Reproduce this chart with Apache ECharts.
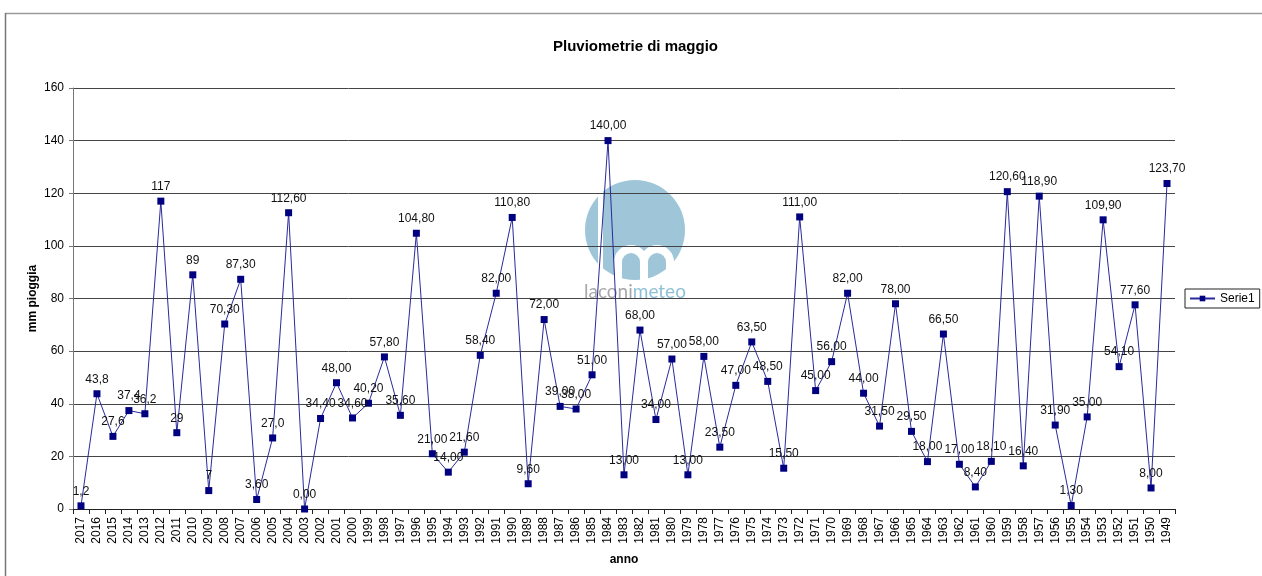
<!DOCTYPE html>
<html>
<head>
<meta charset="utf-8">
<script src="https://cdn.jsdelivr.net/npm/echarts@6/dist/echarts.min.js"></script>
<style>
html,body{margin:0;padding:0;background:#fff;}
#chart{width:1262px;height:576px;}
</style>
</head>
<body>
<div id="chart"></div>
<script>
var years = ['2017','2016','2015','2014','2013','2012','2011','2010','2009','2008','2007','2006','2005','2004','2003','2002','2001','2000','1999','1998','1997','1996','1995','1994','1993','1992','1991','1990','1989','1988','1987','1986','1985','1984','1983','1982','1981','1980','1979','1978','1977','1976','1975','1974','1973','1972','1971','1970','1969','1968','1967','1966','1965','1964','1963','1962','1961','1960','1959','1958','1957','1956','1955','1954','1953','1952','1951','1950','1949'];
var rain = [1.2,43.8,27.6,37.4,36.2,117,29,89,7,70.3,87.3,3.6,27.0,112.6,0.0,34.4,48.0,34.6,40.2,57.8,35.6,104.8,21.0,14.0,21.6,58.4,82.0,110.8,9.6,72.0,39.0,38.0,51.0,140.0,13.0,68.0,34.0,57.0,13.0,58.0,23.5,47.0,63.5,48.5,15.5,111.0,45.0,56.0,82.0,44.0,31.5,78.0,29.5,18.0,66.5,17.0,8.4,18.1,120.6,16.4,118.9,31.9,1.3,35.0,109.9,54.1,77.6,8.0,123.7];
var labelTexts = ['1,2','43,8','27,6','37,4','36,2','117','29','89','7','70,30','87,30','3,60','27,0','112,60','0,00','34,40','48,00','34,60','40,20','57,80','35,60','104,80','21,00','14,00','21,60','58,40','82,00','110,80','9,60','72,00','39,00','38,00','51,00','140,00','13,00','68,00','34,00','57,00','13,00','58,00','23,50','47,00','63,50','48,50','15,50','111,00','45,00','56,00','82,00','44,00','31,50','78,00','29,50','18,00','66,50','17,00','8,40','18,10','120,60','16,40','118,90','31,90','1,30','35,00','109,90','54,10','77,60','8,00','123,70'];
var yTicks = {min: 0, max: 160, interval: 20};

var FONT = '"Liberation Sans", Arial, sans-serif';
var chart = echarts.init(document.getElementById('chart'), null, {renderer: 'canvas'});
chart.setOption({
  animation: false,
  backgroundColor: '#ffffff',
  title: {
    text: 'Pluviometrie di maggio',
    left: 548, top: 34,
    textStyle: {fontFamily: FONT, fontSize: 15, fontWeight: 'bold', color: '#000'}
  },
  legend: {
    data: ['Serie1'],
    left: 1185, top: 289,
    orient: 'vertical',
    padding: [2, 5, 2, 4],
    borderColor: '#222', borderWidth: 1,
    itemWidth: 25, itemHeight: 7, itemGap: 0,
    textStyle: {fontFamily: FONT, fontSize: 12, color: '#000', lineHeight: 15}
  },
  grid: {left: 73, right: 87, top: 88, bottom: 67, containLabel: false},
  xAxis: {
    type: 'category',
    data: years,
    boundaryGap: true,
    name: 'anno',
    nameLocation: 'middle',
    nameGap: 45,
    nameMoveOverlap: false,
    nameTextStyle: {fontFamily: FONT, fontSize: 12, fontWeight: 'bold', color: '#000'},
    axisLine: {lineStyle: {color: '#222', width: 1}},
    axisTick: {show: true, length: 5, lineStyle: {color: '#222'}},
    axisLabel: {rotate: 90, interval: 0, margin: 8, fontFamily: FONT, fontSize: 12, color: '#000'},
    splitLine: {show: false}
  },
  yAxis: {
    type: 'value',
    min: yTicks.min, max: yTicks.max, interval: yTicks.interval,
    name: 'mm pioggia',
    nameLocation: 'middle',
    nameGap: 34,
    nameMoveOverlap: false,
    nameTextStyle: {fontFamily: FONT, fontSize: 12, fontWeight: 'bold', color: '#000'},
    axisLine: {show: true, lineStyle: {color: '#777', width: 1}},
    axisTick: {show: true, length: 4, lineStyle: {color: '#777'}},
    axisLabel: {margin: 9, fontFamily: FONT, fontSize: 12, color: '#000'},
    splitLine: {show: true, lineStyle: {color: '#444', width: 1}}
  },
  graphic: [
    {type: 'line', z: -5, shape: {x1: 5, y1: 13.5, x2: 1262, y2: 13.5}, style: {stroke: '#9a9a9a', lineWidth: 1.5}},
    {type: 'line', z: -5, shape: {x1: 5.5, y1: 13, x2: 5.5, y2: 576}, style: {stroke: '#777', lineWidth: 1.5}},
    {type: 'circle', z: -10, shape: {cx: 635, cy: 230, r: 50}, style: {fill: '#9ec6d8'}},
    {type: 'rect', z: -9, shape: {x: 598, y: 178, width: 5, height: 104}, style: {fill: '#ffffff'}},
    {type: 'line', z: -9, shape: {x1: 618, y1: 262, x2: 618, y2: 282}, style: {stroke: '#ffffff', lineWidth: 8}},
    {type: 'line', z: -9, shape: {x1: 644, y1: 262, x2: 644, y2: 282}, style: {stroke: '#ffffff', lineWidth: 8}},
    {type: 'line', z: -9, shape: {x1: 670, y1: 262, x2: 670, y2: 282}, style: {stroke: '#ffffff', lineWidth: 8}},
    {type: 'arc', z: -9, shape: {cx: 631, cy: 262, r: 13, startAngle: Math.PI, endAngle: 2 * Math.PI, clockwise: true}, style: {stroke: '#ffffff', lineWidth: 8, fill: null}},
    {type: 'arc', z: -9, shape: {cx: 657, cy: 262, r: 13, startAngle: Math.PI, endAngle: 2 * Math.PI, clockwise: true}, style: {stroke: '#ffffff', lineWidth: 8, fill: null}},
    {type: 'text', z: -9, left: 584, top: 282,
      style: {text: '{a|laconi}{b|meteo}', rich: {
        a: {fontFamily: 'Lato, sans-serif', fontWeight: 400, fontSize: 19, fill: '#a7a7a7', color: '#a7a7a7'},
        b: {fontFamily: 'Lato, sans-serif', fontWeight: 400, fontSize: 19, fill: '#8fc0d6', color: '#8fc0d6'}
      }}}
  ],
  series: [{
    name: 'Serie1',
    type: 'line',
    data: rain,
    symbol: 'rect',
    symbolSize: 7,
    lineStyle: {color: '#2a2a9a', width: 1},
    itemStyle: {color: '#000080'},
    label: {
      show: true, position: 'top', distance: 5,
      fontFamily: FONT, fontSize: 12, color: '#111',
      formatter: function (p) { return labelTexts[p.dataIndex]; }
    },
    labelLayout: {hideOverlap: false},
    z: 3
  }]
});
</script>
</body>
</html>
